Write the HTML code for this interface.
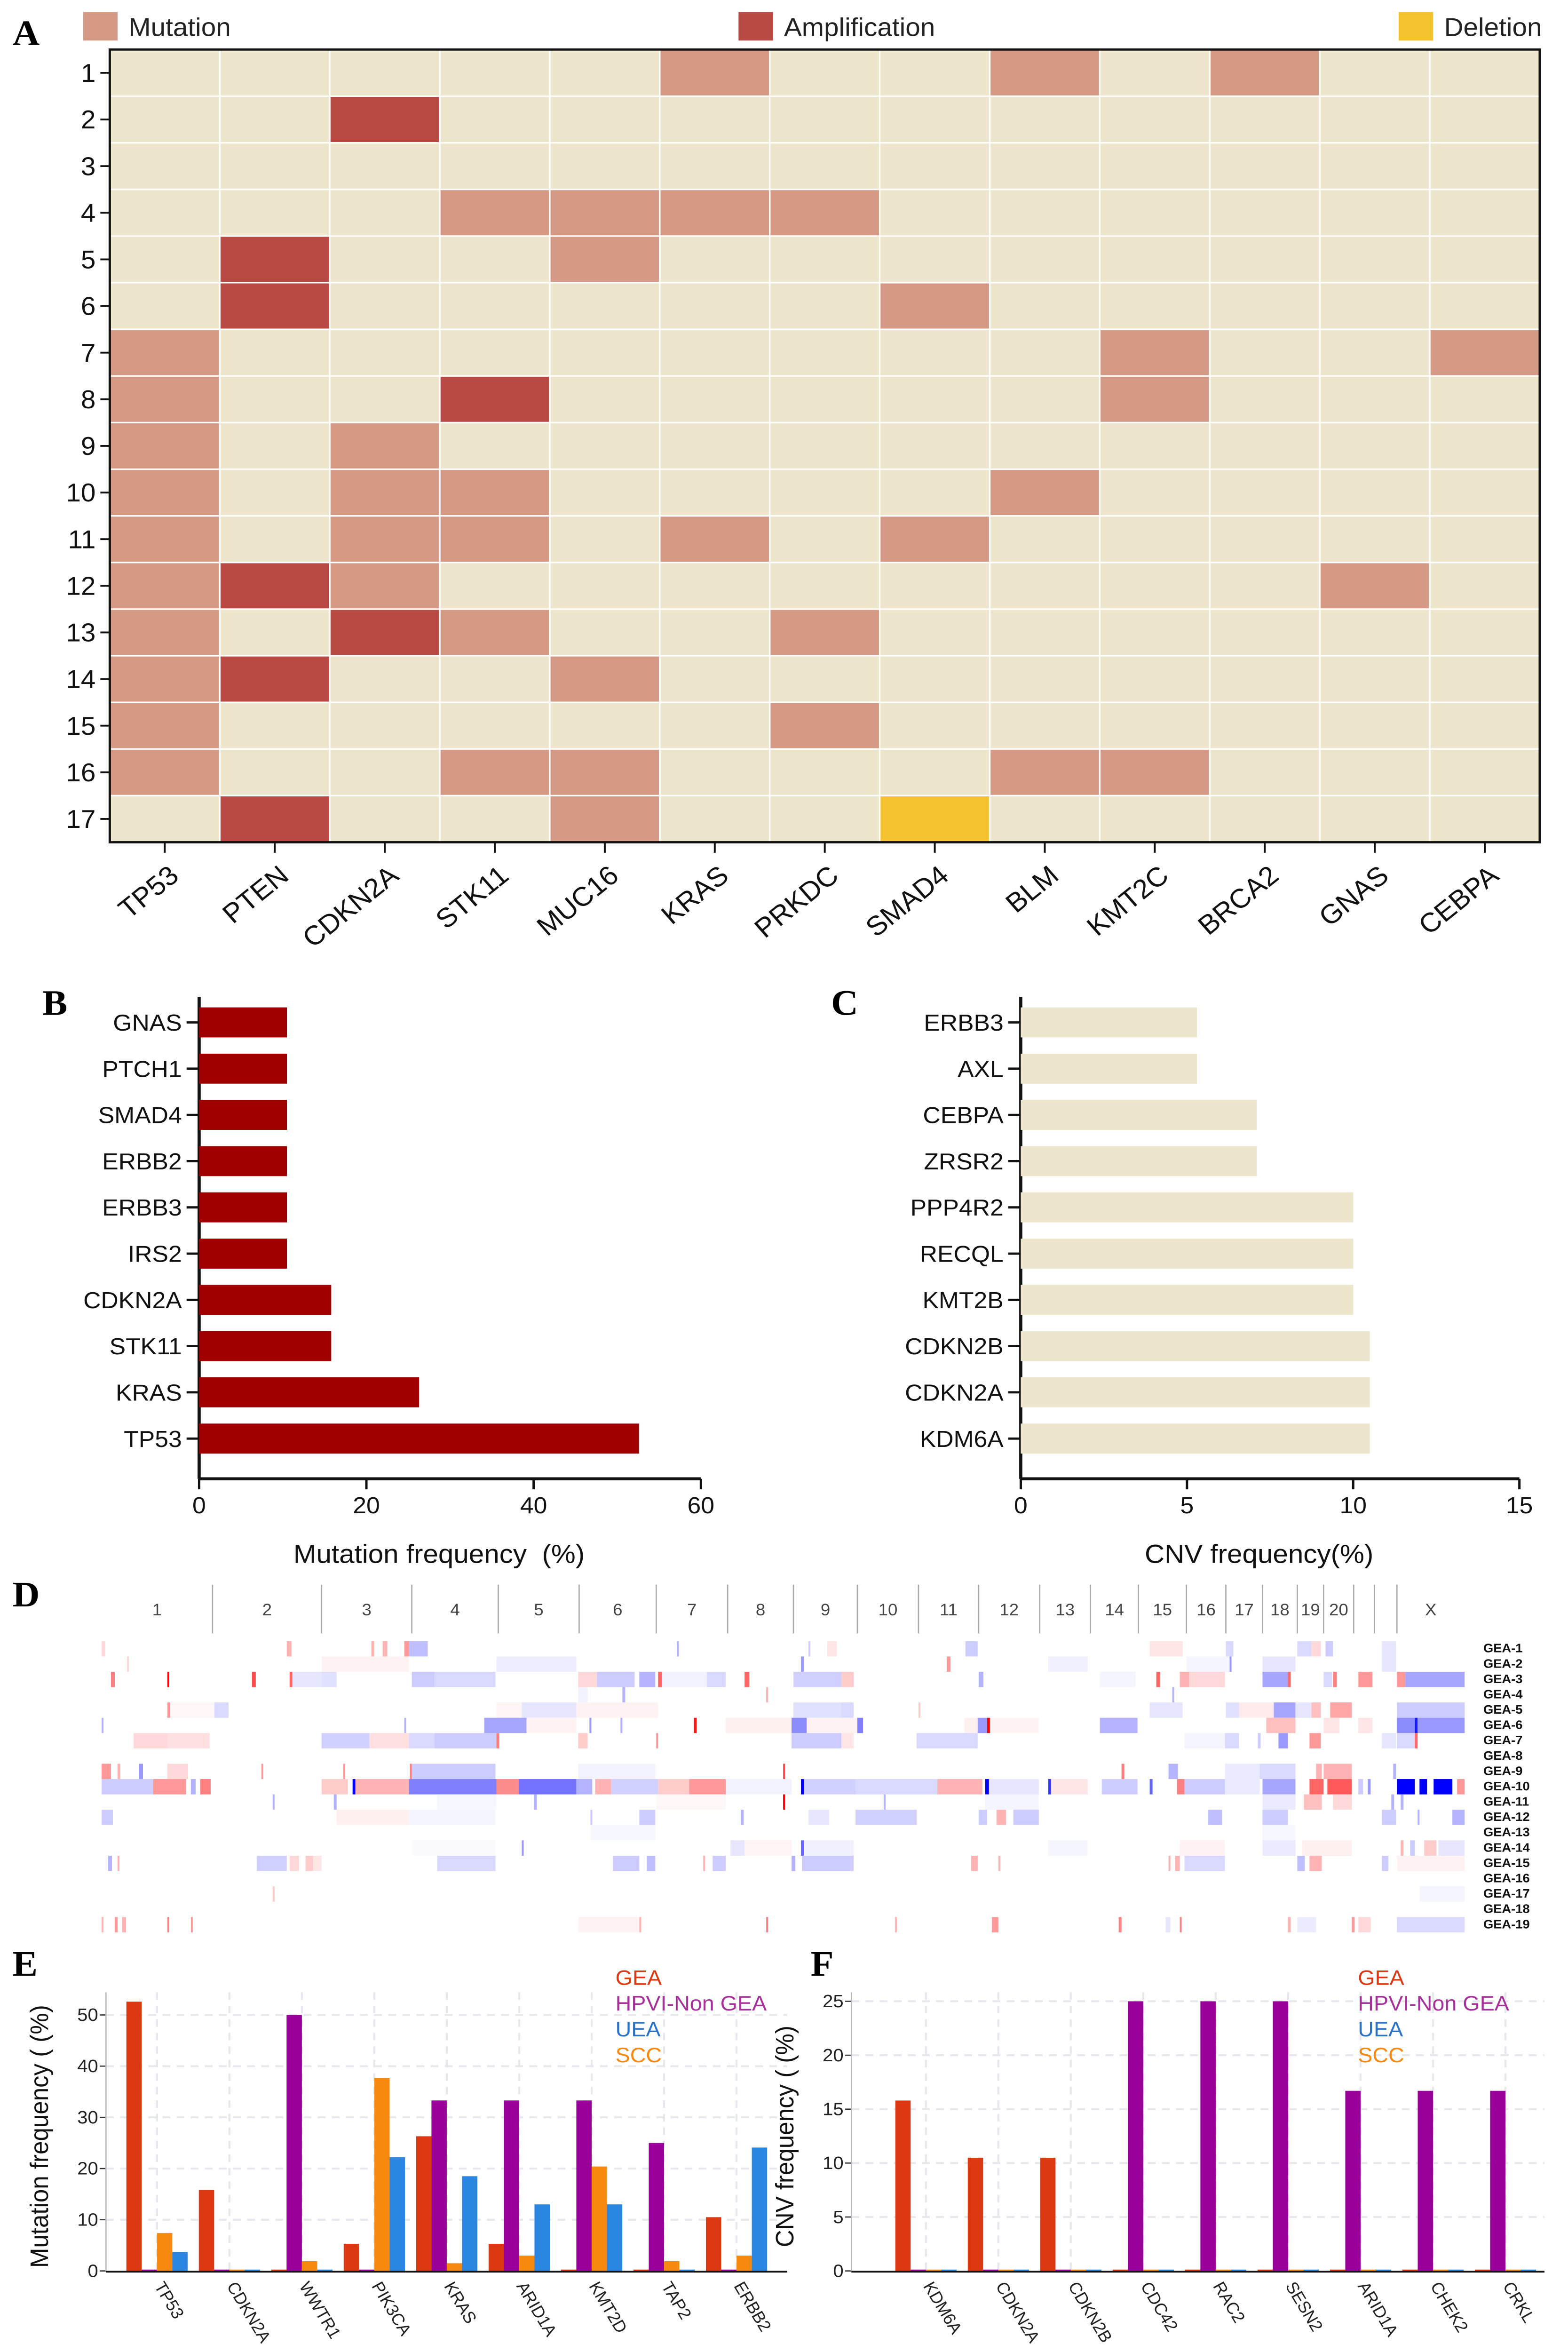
<!DOCTYPE html>
<html><head><meta charset="utf-8">
<style>
html,body{margin:0;padding:0;background:#fff;width:100vw;height:100vh;overflow:hidden;}
svg{display:block;position:absolute;left:0;top:0;width:100vw;height:100vh;}
text{font-family:"Liberation Sans",sans-serif;}
.pl{font-family:"Liberation Serif",serif;font-weight:bold;font-size:24px;}
</style></head>
<body>
<svg id="fig" xmlns="http://www.w3.org/2000/svg" viewBox="0 0 1000 1566.6" preserveAspectRatio="none">
<rect x="0" y="0" width="1000" height="1566.6" fill="#fff"/>
<g id="A"></g>
<g id="B"></g>
<g id="C"></g>
<g id="D"></g>
<g id="E"></g>
<g id="F"></g>
</svg>
<script>
// ---------- Panel A data ----------
const aGenes = ["TP53","PTEN","CDKN2A","STK11","MUC16","KRAS","PRKDC","SMAD4","BLM","KMT2C","BRCA2","GNAS","CEBPA"];
const aRows = ["1","2","3","4","5","6","7","8","9","10","11","12","13","14","15","16","17"];
const aCells = [
[0,5,"M"],[0,8,"M"],[0,10,"M"],
[1,2,"A"],
[3,3,"M"],[3,4,"M"],[3,5,"M"],[3,6,"M"],
[4,1,"A"],[4,4,"M"],
[5,1,"A"],[5,7,"M"],
[6,0,"M"],[6,9,"M"],[6,12,"M"],
[7,0,"M"],[7,3,"A"],[7,9,"M"],
[8,0,"M"],[8,2,"M"],
[9,0,"M"],[9,2,"M"],[9,3,"M"],[9,8,"M"],
[10,0,"M"],[10,2,"M"],[10,3,"M"],[10,5,"M"],[10,7,"M"],
[11,0,"M"],[11,1,"A"],[11,2,"M"],[11,11,"M"],
[12,0,"M"],[12,2,"A"],[12,3,"M"],[12,6,"M"],
[13,0,"M"],[13,1,"A"],[13,4,"M"],
[14,0,"M"],[14,6,"M"],
[15,0,"M"],[15,3,"M"],[15,4,"M"],[15,8,"M"],[15,9,"M"],
[16,1,"A"],[16,4,"M"],[16,7,"D"]
];
// ---------- Panel B data ----------
const bGenes = ["GNAS","PTCH1","SMAD4","ERBB2","ERBB3","IRS2","CDKN2A","STK11","KRAS","TP53"];
const bValues = [10.5,10.5,10.5,10.5,10.5,10.5,15.8,15.8,26.3,52.6];
const bTicks = [0,20,40,60];
// ---------- Panel C data ----------
const cGenes = ["ERBB3","AXL","CEBPA","ZRSR2","PPP4R2","RECQL","KMT2B","CDKN2B","CDKN2A","KDM6A"];
const cValues = [5.3,5.3,7.1,7.1,10.0,10.0,10.0,10.5,10.5,10.5];
const cTicks = [0,5,10,15];
// ---------- Panel D data ----------
const dChroms = ["1","2","3","4","5","6","7","8","9","10","11","12","13","14","15","16","17","18","19","20","",""," X"];
const dChromBounds = [8,126,242,338,430,516,598,674,744,812,877,941,1006,1060,1111,1162,1204,1243,1280,1308,1340,1362,1386,1458];
const dSamples = ["GEA-1","GEA-2","GEA-3","GEA-4","GEA-5","GEA-6","GEA-7","GEA-8","GEA-9","GEA-10","GEA-11","GEA-12","GEA-13","GEA-14","GEA-15","GEA-16","GEA-17","GEA-18","GEA-19"];
const dSegs = [
[0,8,12,.15],[0,205,210,.3],[0,295,298,.3],[0,307,312,.3],[0,330,335,.4],[0,335,355,-.25],[0,620,622,-.3],[0,760,762,-.2],[0,780,790,.1],[0,927,940,-.2],[0,1123,1158,.1],[0,1204,1212,-.15],[0,1280,1295,-.15],[0,1295,1305,.15],[0,1310,1318,-.2],[0,1370,1385,-.1],
[1,35,37,.15],[1,242,335,.05],[1,428,513,-.07],[1,752,755,-.4],[1,907,911,.4],[1,1015,1057,-.06],[1,1162,1208,-.04],[1,1208,1210,-.4],[1,1243,1278,-.1],[1,1370,1385,-.1],
[2,18,22,.5],[2,78,80,1],[2,168,172,.7],[2,208,211,.6],[2,211,242,-.1],[2,242,258,-.12],[2,338,362,-.2],[2,362,427,-.15],[2,515,535,.15],[2,535,575,-.2],[2,580,597,-.3],[2,600,604,.6],[2,604,652,-.05],[2,652,672,-.15],[2,692,697,.6],[2,744,795,-.18],[2,795,808,.2],[2,941,946,-.3],[2,1070,1108,-.04],[2,1130,1134,.6],[2,1155,1165,.3],[2,1165,1203,.15],[2,1243,1270,-.35],[2,1270,1273,.6],[2,1308,1317,-.15],[2,1318,1322,.5],[2,1345,1360,.4],[2,1386,1395,.4],[2,1395,1458,-.35],
[3,515,525,-.05],[3,562,565,-.3],[3,715,717,.3],[3,1147,1149,-.3],
[4,78,81,.4],[4,81,128,.03],[4,128,143,-.15],[4,428,455,.04],[4,455,513,-.1],[4,513,600,.05],[4,744,795,-.12],[4,795,808,-.15],[4,877,879,.2],[4,1123,1158,-.1],[4,1204,1218,-.12],[4,1218,1255,.08],[4,1255,1278,-.35],[4,1278,1295,-.1],[4,1295,1305,.25],[4,1315,1338,.35],[4,1386,1458,-.2],
[5,8,10,-.3],[5,330,332,-.3],[5,415,460,-.35],[5,460,513,.05],[5,527,529,-.4],[5,560,562,-.3],[5,638,641,.9],[5,672,742,.06],[5,742,758,-.45],[5,758,812,.05],[5,812,818,-.5],[5,926,940,.06],[5,940,950,-.4],[5,950,953,1],[5,953,1005,.05],[5,1070,1110,-.3],[5,1247,1278,.25],[5,1308,1325,.1],[5,1345,1360,.1],[5,1386,1405,-.45],[5,1405,1408,-.9],[5,1408,1458,-.4],
[6,42,78,.15],[6,78,123,.12],[6,242,293,-.18],[6,293,335,.12],[6,335,362,-.15],[6,362,428,-.2],[6,428,431,.5],[6,515,525,.2],[6,598,600,.4],[6,742,795,-.2],[6,795,808,.1],[6,875,940,-.15],[6,1160,1203,-.04],[6,1203,1218,-.15],[6,1238,1241,-.2],[6,1260,1270,-.4],[6,1293,1305,.4],[6,1370,1385,-.1],[6,1386,1405,-.15],[6,1405,1408,.6],
[8,8,18,.4],[8,25,28,.3],[8,48,52,-.4],[8,78,100,.15],[8,178,180,.4],[8,265,267,.4],[8,336,338,.5],[8,338,427,-.2],[8,515,597,-.05],[8,733,735,.7],[8,1093,1096,.5],[8,1143,1153,-.3],[8,1203,1240,-.08],[8,1240,1278,-.15],[8,1300,1306,.3],[8,1308,1338,.3],[8,1382,1385,-.3],
[9,8,63,-.2],[9,63,98,.4],[9,103,108,-.3],[9,113,124,.5],[9,242,270,.2],[9,275,278,-1],[9,278,335,.3],[9,335,428,-.5],[9,428,452,.45],[9,452,513,-.55],[9,513,530,-.3],[9,533,550,.3],[9,550,600,-.18],[9,600,633,.2],[9,633,672,.4],[9,672,742,-.05],[9,752,755,-1],[9,755,810,-.18],[9,810,897,-.15],[9,897,945,.3],[9,948,952,-1],[9,952,1005,-.1],[9,1015,1018,-.8],[9,1018,1057,.1],[9,1072,1110,-.2],[9,1123,1126,-.6],[9,1152,1160,.5],[9,1160,1203,-.2],[9,1203,1240,-.08],[9,1243,1278,-.35],[9,1293,1308,.6],[9,1312,1338,.65],[9,1345,1350,-.2],[9,1355,1358,-.4],[9,1386,1405,-1],[9,1410,1418,-1],[9,1425,1445,-1],[9,1450,1458,.4],
[10,190,192,-.3],[10,255,258,-.3],[10,468,471,-.3],[10,365,428,-.03],[10,598,672,.03],[10,733,735,1],[10,840,842,-.3],[10,948,1005,-.04],[10,1243,1278,-.08],[10,1287,1306,.25],[10,1318,1338,.15],[10,1380,1383,-.3],[10,1390,1393,-.3],
[11,8,20,-.2],[11,258,335,.06],[11,335,427,-.04],[11,528,530,-.2],[11,580,597,-.2],[11,688,691,-.3],[11,760,782,-.1],[11,810,875,-.18],[11,941,950,-.2],[11,960,970,.3],[11,978,1005,-.2],[11,1185,1200,-.25],[11,1243,1270,-.2],[11,1370,1385,-.2],[11,1408,1410,-.3],[11,1445,1458,-.3],
[12,528,597,-.03],[12,1243,1278,-.03],
[13,338,427,-.02],[13,455,457,-.4],[13,677,692,-.1],[13,692,742,.04],[13,752,755,-.6],[13,755,808,-.06],[13,1015,1057,-.04],[13,1155,1203,.05],[13,1243,1278,-.08],[13,1285,1338,.06],[13,1390,1393,.3],[13,1400,1405,-.2],[13,1415,1428,.2],[13,1430,1458,-.1],
[14,15,19,-.3],[14,25,27,.3],[14,173,205,-.18],[14,208,218,.15],[14,225,233,.2],[14,233,242,.1],[14,365,427,-.15],[14,552,580,-.2],[14,588,597,-.25],[14,648,650,.3],[14,658,672,-.2],[14,742,746,-.3],[14,753,808,-.2],[14,933,940,.3],[14,962,964,.3],[14,1143,1145,.3],[14,1150,1155,.3],[14,1160,1203,-.15],[14,1280,1288,-.25],[14,1293,1306,.3],[14,1370,1377,-.2],[14,1386,1458,.05],
[16,190,192,.2],[16,1410,1458,-.04],
[18,8,10,.3],[18,22,25,.4],[18,30,34,.3],[18,78,80,.5],[18,103,105,.4],[18,515,580,.05],[18,580,582,.3],[18,715,717,.5],[18,852,854,.3],[18,955,962,.4],[18,1090,1093,.5],[18,1140,1145,-.1],[18,1155,1157,.5],[18,1270,1273,.3],[18,1280,1300,-.08],[18,1338,1341,.4],[18,1345,1358,.15],[18,1386,1458,-.15]
];
// ---------- Panel E data ----------
const eGenes = ["TP53","CDKN2A","WWTR1","PIK3CA","KRAS","ARID1A","KMT2D","TAP2","ERBB2"];
const eGEA  = [52.6,15.8,0,5.3,26.3,5.3,0,0,10.5];
const eHPVI = [0,0,50,0,33.3,33.3,33.3,25,0];
const eSCC  = [7.4,0,1.9,37.7,1.5,3.0,20.4,1.9,3.0];
const eUEA  = [3.7,0,0,22.2,18.5,13.0,13.0,0,24.1];
const eTicks = [0,10,20,30,40,50];
// ---------- Panel F data ----------
const fGenes = ["KDM6A","CDKN2A","CDKN2B","CDC42","RAC2","SESN2","ARID1A","CHEK2","CRKL"];
const fGEA  = [15.8,10.5,10.5,0,0,0,0,0,0];
const fHPVI = [0,0,0,25,25,25,16.7,16.7,16.7];
const fSCC  = [0,0,0,0,0,0,0,0,0];
const fUEA  = [0,0,0,0,0,0,0,0,0];
const fTicks = [0,5,10,15,20,25];

const NS="http://www.w3.org/2000/svg";
function mk(parent,tag,attrs,txt){const e=document.createElementNS(NS,tag);for(const k in attrs)e.setAttribute(k,attrs[k]);if(txt!==undefined)e.textContent=txt;parent.appendChild(e);return e;}

(function(){
const g=document.getElementById('A');
const x0=70,x1=982,y0=33,y1=561;
const cw=(x1-x0)/aGenes.length, rh=(y1-y0)/aRows.length;
const colors={M:"#d49a86",A:"#b94a43",D:"#f5c22f"};
let t=mk(g,'text',{x:8,y:30,class:'pl'},'A');


const leg=[["Mutation",53,"M"],["Amplification",471,"A"],["Deletion",892,"D"]];
leg.forEach(l=>{
 const r=mk(g,'rect',{x:l[1],y:8,width:22,height:19,fill:colors[l[2]]});
 
 
 const tt=mk(g,'text',{x:l[1]+29,y:24,'font-size':17,fill:'#222'},l[0]);
 
 
});
const bg=mk(g,'rect',{x:x0,y:y0,width:x1-x0,height:y1-y0,fill:'#ede5cc'});


aCells.forEach(c=>{
 const r=mk(g,'rect',{x:x0+c[1]*cw,y:y0+c[0]*rh,width:cw,height:rh,fill:colors[c[2]]});
 
 
});
for(let i=1;i<aGenes.length;i++)mk(g,'line',{x1:x0+i*cw,x2:x0+i*cw,y1:y0,y2:y1,stroke:'#fff','stroke-width':1});
for(let j=1;j<aRows.length;j++)mk(g,'line',{x1:x0,x2:x1,y1:y0+j*rh,y2:y0+j*rh,stroke:'#fff','stroke-width':1});
mk(g,'rect',{x:x0,y:y0,width:x1-x0,height:y1-y0,fill:'none',stroke:'#111','stroke-width':1.5});
aRows.forEach((r,j)=>{
 const yc=y0+(j+.5)*rh;
 mk(g,'line',{x1:x0-6,x2:x0,y1:yc,y2:yc,stroke:'#111','stroke-width':1.2});
 const tt=mk(g,'text',{x:x0-9,y:yc+6,'font-size':17,'text-anchor':'end',fill:'#111'},r);
 
 
});
aGenes.forEach((gn,i)=>{
 const xc=x0+(i+.5)*cw;
 mk(g,'line',{x1:xc,x2:xc,y1:y1,y2:y1+7,stroke:'#111','stroke-width':1.2});
 const tt=mk(g,'text',{x:xc+10,y:y1+24,'font-size':18,'text-anchor':'end',fill:'#111',transform:`rotate(-40 ${xc+10} ${y1+24})`},gn);
 
 
});
})();

function hbar(id,letter,lx,genes,vals,ticks,ax0,ax1,vmax,color,title,titleX){
 const g=document.getElementById(id);
 const sx=v=>ax0+(ax1-ax0)*v/vmax;
 let t=mk(g,'text',{x:lx,y:676,class:'pl'},letter);
 
 
 const top=681, step=30.8, bh=20;
 mk(g,'line',{x1:ax0,x2:ax0,y1:664,y2:985,stroke:'#111','stroke-width':2});
 mk(g,'line',{x1:ax0,x2:ax1,y1:985,y2:985,stroke:'#111','stroke-width':2});
 genes.forEach((gn,i)=>{
  const yc=top+i*step;
  const r=mk(g,'rect',{x:ax0,y:yc-bh/2,width:sx(vals[i])-ax0,height:bh,fill:color});
  
  
  mk(g,'line',{x1:ax0-8,x2:ax0,y1:yc,y2:yc,stroke:'#111','stroke-width':1.5});
  const tt=mk(g,'text',{x:ax0-11,y:yc+5.5,'font-size':15.5,'text-anchor':'end',fill:'#111'},gn);
  
  
 });
 ticks.forEach(v=>{
  const x=sx(v);
  mk(g,'line',{x1:x,x2:x,y1:985,y2:992,stroke:'#111','stroke-width':1.5});
  const tt=mk(g,'text',{x:x,y:1008,'font-size':15.5,'text-anchor':'middle',fill:'#111'},String(v));
  
  
 });
 const tt=mk(g,'text',{x:titleX,y:1041,'font-size':17.5,'text-anchor':'middle',fill:'#111'},title);
 
 
}
hbar('B','B',27,bGenes,bValues,bTicks,127,447,60,'#a00000','Mutation frequency \u00a0(%)',280);
hbar('C','C',530,cGenes,cValues,cTicks,651,969,15,'#ede5cc','CNV frequency(%)',803);

(function(){
 const g=document.getElementById('D');
 const sx=z=>60+z*0.5995;
 const rTop=1093.1, rh=10.21;
 let t=mk(g,'text',{x:8,y:1070,class:'pl'},'D');
 
 
 for(let i=1;i<dChromBounds.length-1;i++){
  const x=sx(dChromBounds[i]);
  mk(g,'line',{x1:x,x2:x,y1:1055.5,y2:1088,stroke:'#aaa','stroke-width':0.8});
 }
 dChroms.forEach((c,i)=>{
  if(!c.trim())return;
  const xc=(sx(dChromBounds[i])+sx(dChromBounds[i+1]))/2;
  const tt=mk(g,'text',{x:xc,y:1076,'font-size':11,'text-anchor':'middle',fill:'#444'},c.trim());
  
  
 });
 function col(v){const a=Math.min(1,Math.abs(v));const c=Math.round(255*(1-a));return v>=0?`rgb(255,${c},${c})`:`rgb(${c},${c},255)`;}
 dSegs.forEach(s=>{
  const r=mk(g,'rect',{x:sx(s[1]),y:rTop+s[0]*rh,width:Math.max(0.6,sx(s[2])-sx(s[1])),height:rh,fill:col(s[3])});
  
  
 });
 dSamples.forEach((s,i)=>{
  const tt=mk(g,'text',{x:946,y:rTop+i*rh+7.5,'font-size':8.2,'font-weight':'bold',fill:'#111'},s);
  
  
 });
})();

function grouped(id,letter,lx,genes,series,ticks,ax0,ax1,y0,yTopVal,yTopPx,firstBar,title,legX){
 const g=document.getElementById(id);
 const sy=v=>y0-(y0-yTopPx)*v/yTopVal;
 const step=46.2, bw=9.76;
 const cols=["#dc3912","#990099","#f7890f","#2a86e0"];
 let t=mk(g,'text',{x:lx,y:1316,class:'pl'},letter);
 
 
 ticks.forEach(v=>{
  const y=sy(v);
  if(v>0)mk(g,'line',{x1:ax0,x2:ax1,y1:y,y2:y,stroke:'#e6e8ee','stroke-width':1.3,'stroke-dasharray':'5,4'});
  mk(g,'line',{x1:ax0-4,x2:ax0,y1:y,y2:y,stroke:'#333','stroke-width':0.8});
  const tt=mk(g,'text',{x:ax0-5,y:y+4,'font-size':12,'text-anchor':'end',fill:'#222'},String(v));
  
  
 });
 genes.forEach((gn,i)=>{
  const xc=firstBar+i*step+2*bw;
  mk(g,'line',{x1:xc,x2:xc,y1:1327,y2:y0,stroke:'#e6e8ee','stroke-width':1.3,'stroke-dasharray':'5,4'});
 });
 genes.forEach((gn,i)=>{
  const gx=firstBar+i*step, xc=gx+2*bw;
  series.forEach((s,k)=>{
   const h=Math.max(0.9,y0-sy(s.vals[i]));
   const r=mk(g,'rect',{x:gx+k*bw,y:y0-h,width:bw,height:h,fill:cols[k]});
   
   
  });
  const tt=mk(g,'text',{x:xc-2,y:y0+10,'font-size':11,fill:'#222',transform:`rotate(60 ${xc-2} ${y0+10})`},gn);
  
  
 });
 mk(g,'line',{x1:ax0,x2:ax0,y1:1327,y2:y0,stroke:'#bbb','stroke-width':0.8});
 mk(g,'line',{x1:ax0,x2:ax1,y1:y0+0.5,y2:y0+0.5,stroke:'#111','stroke-width':1.2});
 const yt=mk(g,'text',{x:0,y:0,'font-size':16,'text-anchor':'middle',fill:'#111',transform:`translate(${ax0-37} 1423) rotate(-90)`},title);
 
 
 const legs=[["GEA","#dc3912"],["HPVI-Non GEA","#a8309a"],["UEA","#2a73c8"],["SCC","#f7890f"]];
 legs.forEach((l,k)=>{
  const tt=mk(g,'text',{x:legX,y:1322+k*17.2,'font-size':14,fill:l[1]},l[0]);
  
  
 });
}
grouped('E','E',8,eGenes,[{name:'GEA',vals:eGEA},{name:'HPVI',vals:eHPVI},{name:'SCC',vals:eSCC},{name:'UEA',vals:eUEA}],eTicks,67.6,502,1512.6,50,1342.1,80.6,'Mutation frequency ( (%)',392.5);
grouped('F','F',517,fGenes,[{name:'GEA',vals:fGEA},{name:'HPVI',vals:fHPVI},{name:'SCC',vals:fSCC},{name:'UEA',vals:fUEA}],fTicks,543,985,1512.6,25,1333,571,'CNV frequency ( (%)',866);
</script>
</body></html>
